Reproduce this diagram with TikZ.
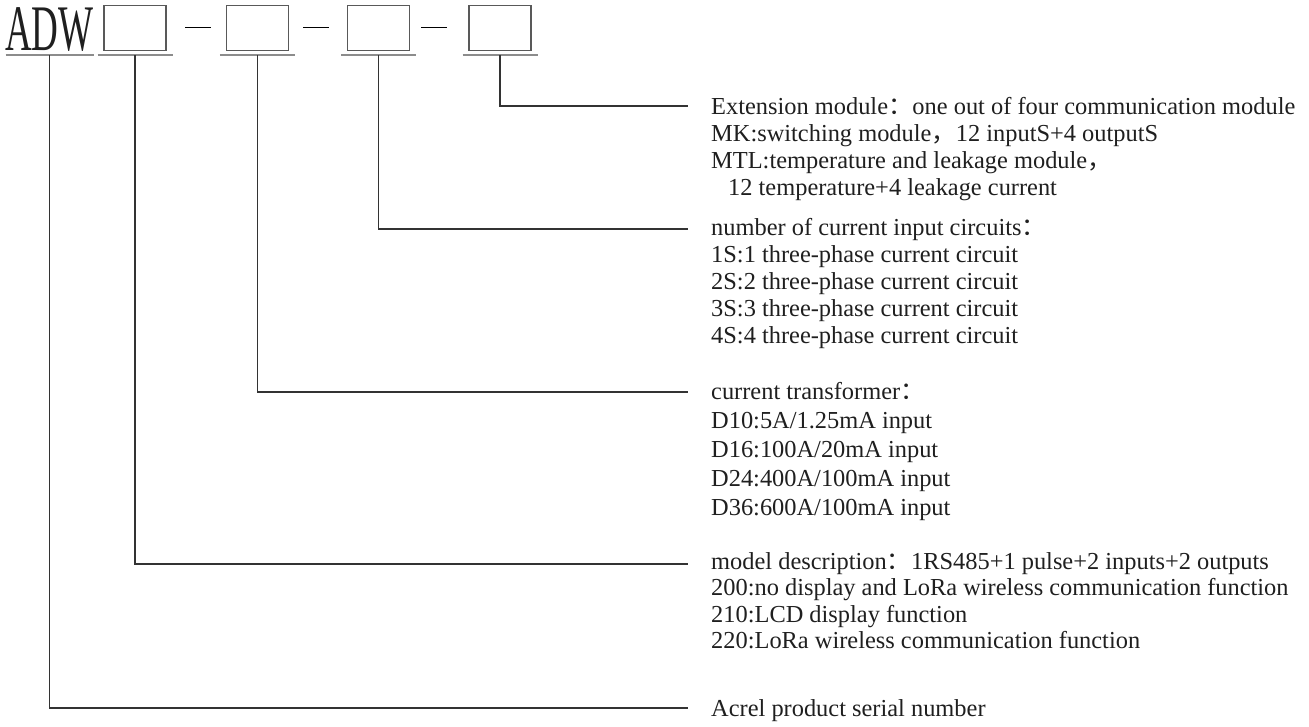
\documentclass[tikz,border=0pt]{standalone}
\usepackage{fontspec}
\usepackage{graphicx}
\setmainfont{Liberation Serif}
\newfontfamily\cjk{Noto Sans CJK SC}
\newcommand{\fwcolon}{{\cjk ：}}
\newcommand{\fwcomma}{{\cjk ，}}
\begin{document}
\begin{tikzpicture}[x=1pt,y=-1pt,
        slot/.style={draw=black!65, line width=1.2pt, minimum width=62pt, minimum height=45pt, inner sep=0pt},
        uline/.style={draw=black!45, line width=2.2pt},
        lead/.style={draw=black!80, line width=1.3pt},
        txt/.style={anchor=base west, inner sep=0pt, text=black!88, font=\fontsize{24.4}{27}\selectfont}]
    \useasboundingbox (0,0) rectangle (1309,726);
    % model code
    \node[anchor=base west, inner sep=0pt, text=black!88] (adw) at (5,50)
        {\scalebox{0.57}[1]{\fontsize{65}{65}\selectfont ADW}};
    \node[slot] (b1) at (135,27.7) {};
    \node[slot] (b2) at (257.3,27.7) {};
    \node[slot] (b3) at (378.6,27.7) {};
    \node[slot] (b4) at (500,27.7) {};
    \draw[uline] (5.7,55) -- (93.6,55);
    \foreach \x in {135,257.3,378.6,500}
        \draw[uline] (\x-37.5,55) -- (\x+37.5,55);
    \foreach \x in {198,316,434}
        \draw[black, line width=1.8pt] (\x-13,27.5) -- (\x+13,27.5);
    % leads
    \coordinate (e4) at (688,106);
    \coordinate (e3) at (688,229);
    \coordinate (e2) at (688,392);
    \coordinate (e1) at (688,564);
    \coordinate (e0) at (688,708);
    \draw[lead] (b4.south |- 0,55) |- (e4);
    \draw[lead] (b3.south |- 0,55) |- (e3);
    \draw[lead] (b2.south |- 0,55) |- (e2);
    \draw[lead] (b1.south |- 0,55) |- (e1);
    \draw[lead] (adw.south |- 0,55) |- (e0);
    % descriptions
    \foreach \t [count=\i from 0] in {{Extension module\fwcolon one out of four communication module},
            {MK:switching module\fwcomma 12 inputS+4 outputS},
            {MTL:temperature and leakage module\fwcomma},
            {\hspace*{17pt}12 temperature+4 leakage current}}
        \node[txt] (ext\i) at (711,114+27*\i) {\t};
    \foreach \t [count=\i from 0] in {{number of current input circuits\fwcolon},
            {1S:1 three-phase current circuit},
            {2S:2 three-phase current circuit},
            {3S:3 three-phase current circuit},
            {4S:4 three-phase current circuit}}
        \node[txt] (cir\i) at (711,235+27*\i) {\t};
    \foreach \t [count=\i from 0] in {{current transformer\fwcolon},
            {D10:5A/1.25mA input},
            {D16:100A/20mA input},
            {D24:400A/100mA input},
            {D36:600A/100mA input}}
        \node[txt] (ct\i) at (711,399+29*\i) {\t};
    \foreach \t [count=\i from 0] in {{model description\fwcolon 1RS485+1 pulse+2 inputs+2 outputs},
            {200:no display and LoRa wireless communication function},
            {210:LCD display function},
            {220:LoRa wireless communication function}}
        \node[txt] (mod\i) at (711,569+26.5*\i) {\t};
    \node[txt] (acrel) at (711,716) {Acrel product serial number};
\end{tikzpicture}
\end{document}
